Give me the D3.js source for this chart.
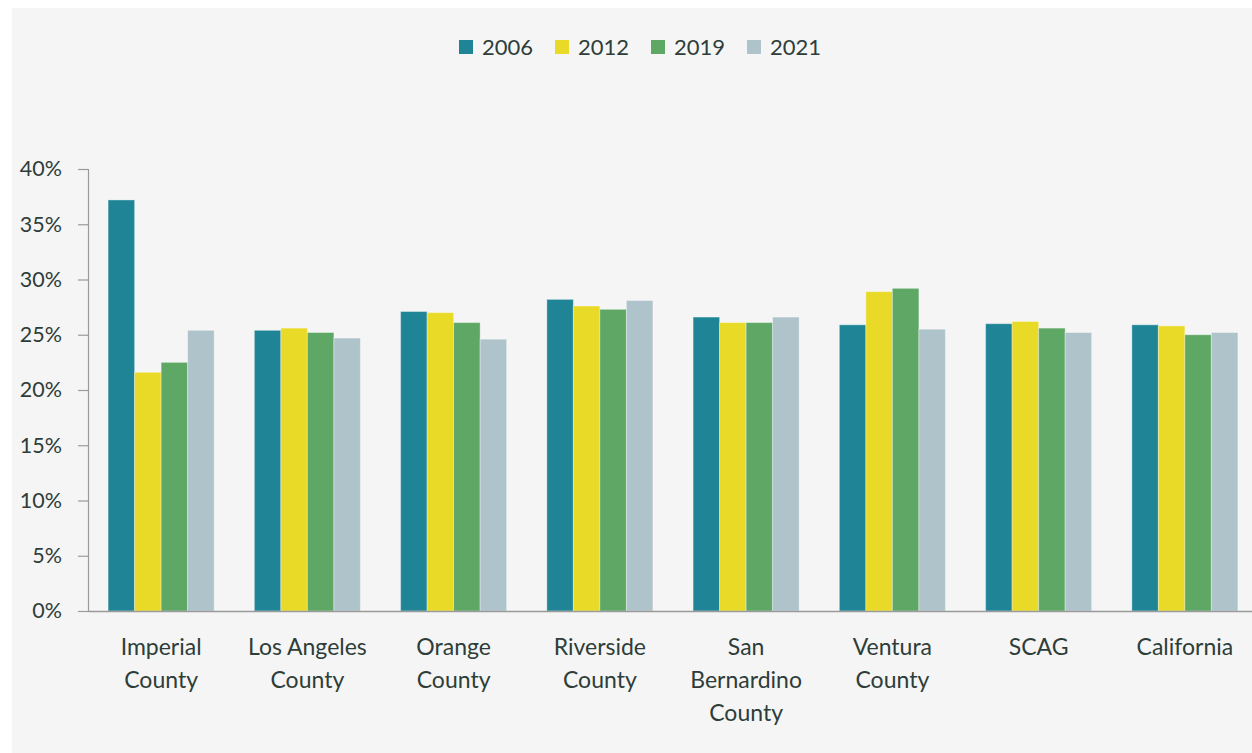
<!DOCTYPE html>
<html>
<head>
<meta charset="utf-8">
<script src="https://cdn.jsdelivr.net/npm/d3@7"></script>
<style>
  html, body { margin: 0; padding: 0; background: #ffffff; }
  svg { display: block; }
</style>
</head>
<body>
<svg id="chart" width="1252" height="753"></svg>
<script>
const categories = ["Imperial County", "Los Angeles County", "Orange County", "Riverside County",
  "San Bernardino County", "Ventura County", "SCAG", "California"];
const categoryLines = [["Imperial", "County"], ["Los Angeles", "County"], ["Orange", "County"],
  ["Riverside", "County"], ["San", "Bernardino", "County"], ["Ventura", "County"], ["SCAG"], ["California"]];
const seriesNames = ["2006", "2012", "2019", "2021"];
const values2006 = [37.2, 25.4, 27.1, 28.2, 26.6, 25.9, 26.0, 25.9];
const values2012 = [21.6, 25.6, 27.0, 27.6, 26.1, 28.9, 26.2, 25.8];
const values2019 = [22.5, 25.2, 26.1, 27.3, 26.1, 29.2, 25.6, 25.0];
const values2021 = [25.4, 24.7, 24.6, 28.1, 26.6, 25.5, 25.2, 25.2];
const yTicks = [0, 5, 10, 15, 20, 25, 30, 35, 40];
const colors = ["#1f8596", "#e8da27", "#5ea764", "#afc3cb"];

const seriesValues = [values2006, values2012, values2019, values2021];
const rows = categories.map((c, i) => ({
  cat: c,
  vals: seriesNames.map((s, j) => ({ key: s, value: seriesValues[j][i] }))
}));

const svg = d3.select("#chart");
const textColor = "#2e3d39";
const font = "Lato, 'Open Sans', sans-serif";

// panel background
svg.append("rect").attr("x", 12).attr("y", 8).attr("width", 1240).attr("height", 745).attr("fill", "#f5f5f5");

const x0 = d3.scaleBand().domain(categories).range([88, 1258]).paddingInner(0.275).paddingOuter(0.1375);
const x1 = d3.scaleBand().domain(seriesNames).range([0, x0.bandwidth()]).padding(0);
const y = d3.scaleLinear().domain([0, 40]).range([611, 169]);

// y axis
const yAxis = d3.axisLeft(y).tickValues(yTicks).tickSize(10).tickPadding(16).tickFormat(d => d + "%");
const gy = svg.append("g").attr("transform", "translate(88,0)").call(yAxis);
gy.select(".domain").attr("stroke", "#9a9a9a").attr("stroke-width", 1.2).attr("d", "M-10,169.5H0.5V611.5H-10");
gy.selectAll(".tick line").attr("stroke", "#9a9a9a").attr("stroke-width", 1.2);
gy.selectAll(".tick text").attr("fill", textColor).style("font-family", font).style("font-size", "21.5px");

// bars
const groups = svg.append("g").selectAll("g").data(rows).join("g")
  .attr("transform", d => `translate(${x0(d.cat)},0)`);
groups.selectAll("rect").data(d => d.vals).join("rect")
  .attr("x", d => x1(d.key))
  .attr("y", d => y(d.value))
  .attr("width", x1.bandwidth())
  .attr("height", d => y(0) - y(d.value))
  .attr("fill", (d, i) => colors[i])
  .attr("stroke", "rgba(255,255,255,0.35)")
  .attr("stroke-width", 1);

// x axis line
const xAxis = d3.axisBottom(x0).tickSize(0).tickFormat("");
const gx = svg.append("g").attr("transform", "translate(0,611)").call(xAxis);
gx.select(".domain").attr("stroke", "#9a9a9a").attr("stroke-width", 1.5);

// x labels
const labels = svg.append("g").selectAll("text").data(categories).join("text")
  .attr("x", d => x0(d) + x0.bandwidth() / 2)
  .attr("y", 655)
  .attr("text-anchor", "middle")
  .attr("fill", textColor)
  .style("font-family", font)
  .style("font-size", "23px");
labels.each(function(d, i) {
  d3.select(this).selectAll("tspan").data(categoryLines[i]).join("tspan")
    .attr("x", x0(d) + x0.bandwidth() / 2)
    .attr("dy", (t, k) => k === 0 ? 0 : 33)
    .text(t => t);
});

// legend
const legendX = [459, 555, 651, 747];
const legend = svg.append("g").selectAll("g").data(seriesNames).join("g")
  .attr("transform", (d, i) => `translate(${legendX[i]},40)`);
legend.append("rect").attr("width", 14).attr("height", 14).attr("fill", (d, i) => colors[i]);
legend.append("text").attr("x", 23).attr("y", 14.5)
  .attr("fill", textColor).style("font-family", font).style("font-size", "22px")
  .text(d => d);
</script>
</body>
</html>
